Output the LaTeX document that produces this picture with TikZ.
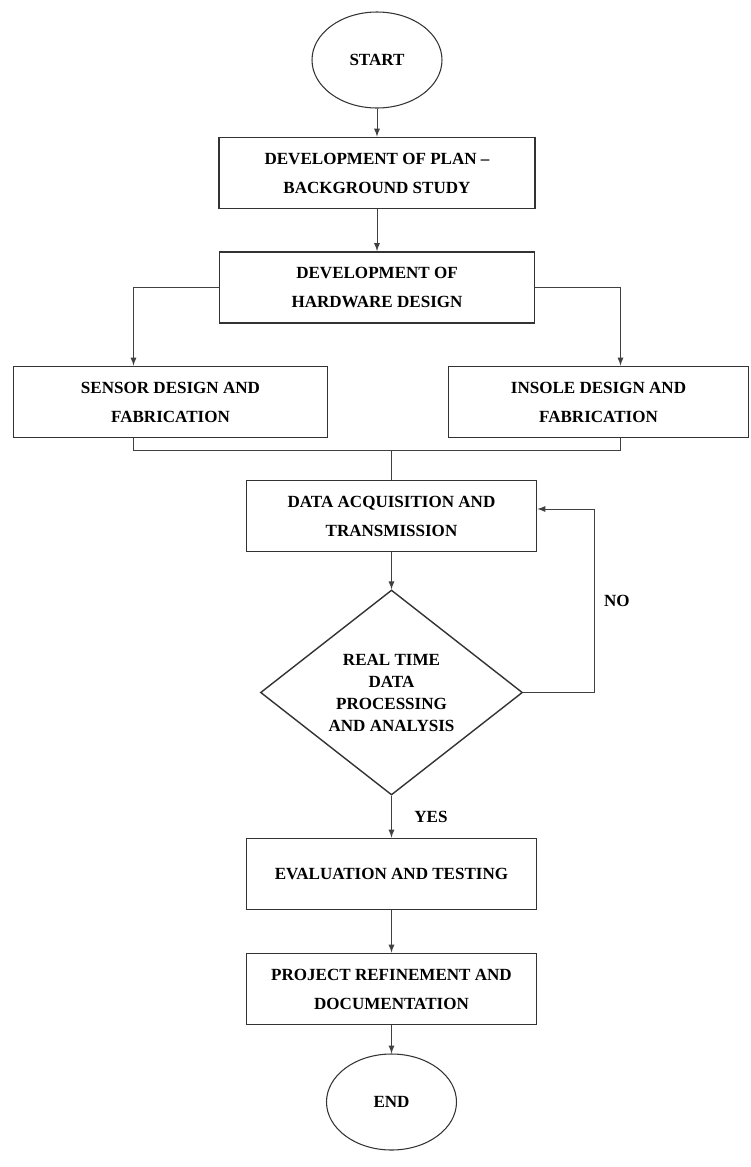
\documentclass[tikz,border=0pt]{standalone}
\usepackage{fontspec}
\setmainfont{Liberation Serif}
\usepackage{tikz}
\usetikzlibrary{shapes.geometric, arrows}
\tikzstyle{startstop} = [ellipse, minimum width=2.6cm, minimum height=1.92cm, text centered, draw=black!80, line width=.6pt, font=\fontsize{9.7}{12}\selectfont\bfseries]
\tikzstyle{process} = [rectangle, minimum height=1.42cm, text centered, align=center, draw=black!80, line width=1.1pt, font=\fontsize{9.7}{16.5}\selectfont\bfseries]
\tikzstyle{decision} = [diamond, minimum width=5.24cm, minimum height=4.1cm, aspect=1.28, inner sep=0, text centered, align=center, draw=black!80, line width=.8pt, font=\fontsize{9.7}{12.5}\selectfont\bfseries]
\tikzstyle{arrow} = [->,>=latex, draw=black!75, line width=.55pt]
\tikzstyle{line} = [draw=black!75, line width=.55pt]
\tikzstyle{answer} = [font=\fontsize{9.7}{12}\selectfont\bfseries]

\begin{document}
\begin{tikzpicture}[node distance=1.2cm]
\useasboundingbox (0,0) rectangle (15.02,-23.34);

\node (start) [startstop] at (7.54,-1.20) {START};
\node (plan) [process, below of=start, yshift=-1.06cm, minimum width=6.32cm] {DEVELOPMENT OF PLAN --\\BACKGROUND STUDY};
\draw [arrow] (start) -- (plan);
\node (hardware) [process, below of=plan, yshift=-1.09cm, minimum width=6.3cm] {DEVELOPMENT OF\\HARDWARE DESIGN};
\draw [arrow] (plan) -- (hardware);

\node (sensor) [process, below of=hardware, xshift=-4.13cm, yshift=-1.09cm, minimum width=6.28cm] {SENSOR DESIGN AND\\FABRICATION};
\draw [arrow] (hardware.west) -| ([xshift=-.74cm]sensor.north);
\node (insole) [process, below of=hardware, xshift=4.43cm, yshift=-1.09cm, minimum width=6cm] {INSOLE DESIGN AND\\FABRICATION};
\draw [arrow] (hardware.east) -| ([xshift=.44cm]insole.north);

\node (acquire) [process, below of=hardware, xshift=.29cm, yshift=-3.37cm, minimum width=5.8cm] {DATA ACQUISITION AND\\TRANSMISSION};
\coordinate (join) at ([yshift=.58cm]acquire.north);
\draw [line] ([xshift=-.74cm]sensor.south) |- (join) -| ([xshift=.44cm]insole.south);
\draw [line] (join) -- (acquire.north);

\node (analyse) [decision, below of=acquire, yshift=-2.33cm] {REAL TIME\\DATA\\PROCESSING\\AND ANALYSIS};
\draw [arrow] (acquire) -- (analyse);
\draw [arrow] (analyse.east) -- ++(1.42cm,0)
                             |- node [answer, anchor=west, xshift=.07cm, pos=.25] {NO} ([yshift=.14cm]acquire.east);

\node (evaluate) [process, below of=analyse, yshift=-2.43cm, minimum width=5.8cm] {EVALUATION AND TESTING};
\draw [arrow] (analyse) -- node [answer, anchor=west, xshift=.33cm] {YES} (evaluate);
\node (refine) [process, below of=evaluate, yshift=-1.1cm, minimum width=5.8cm] {PROJECT REFINEMENT AND\\DOCUMENTATION};
\draw [arrow] (evaluate) -- (refine);
\node (end) [startstop, below of=refine, yshift=-1.06cm] {END};
\draw [arrow] (refine) -- (end);

\end{tikzpicture}
\end{document}
